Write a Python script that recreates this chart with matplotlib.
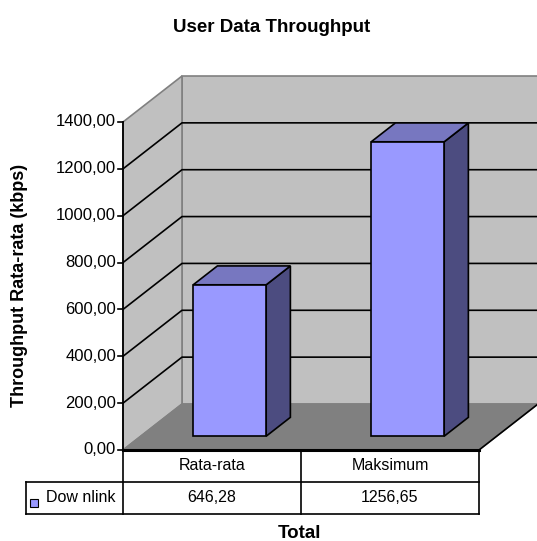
import matplotlib.pyplot as plt
from matplotlib.patches import Polygon, Rectangle

# Data
categories = ["Rata-rata", "Maksimum"]
series_name = "Dow nlink"
values = [646.28, 1256.65]
yticks = [0, 200, 400, 600, 800, 1000, 1200, 1400]

plt.rcParams['font.family'] = ['Liberation Sans', 'DejaVu Sans']

W, H = 537, 541
fig = plt.figure(figsize=(W / 100, H / 100), dpi=100)

# front plot box in pixels
L, R, T, B = 123, 479, 122, 450
ax = fig.add_axes([L / W, 1 - B / H, (R - L) / W, (B - T) / H])
n = len(categories)
top = yticks[-1]
ax.set_xlim(0, n)
ax.set_ylim(0, top)
ax.axis('off')

ppx = (R - L) / n          # pixels per category
ppy = (B - T) / top        # pixels per value unit
dx = 59 / ppx              # depth offset
dy = 46 / ppy

def fmt(v):
    return f"{v:.2f}".replace('.', ',')

# walls and floor
ax.add_patch(Polygon([(dx, dy), (n + dx, dy), (n + dx, top + dy), (dx, top + dy)],
                     fc='#c0c0c0', ec='#808080', lw=1.2, clip_on=False, zorder=1))
ax.add_patch(Polygon([(0, 0), (dx, dy), (dx, top + dy), (0, top)],
                     fc='#c0c0c0', ec='#808080', lw=1.2, clip_on=False, zorder=1))
ax.add_patch(Polygon([(0, 0), (n, 0), (n + dx, dy), (dx, dy)],
                     fc='#808080', ec='#808080', lw=1, clip_on=False, zorder=1.5))
ax.plot([n, n + dx], [0, dy], color='black', lw=1.2, clip_on=False, zorder=2)

# gridlines (top one is the wall edge)
for v in yticks[1:-1]:
    ax.plot([0, dx, n + dx], [v, v + dy, v + dy], color='black', lw=1.2,
            clip_on=False, zorder=2)

# value axis
ax.plot([0, 0], [0, top], color='black', lw=1.3, clip_on=False, zorder=4)
for v in yticks:
    ax.plot([-5 / ppx, 0], [v, v], color='black', lw=1.2, clip_on=False, zorder=4)
    ax.text(-7 / ppx, v, fmt(v), ha='right', va='center', fontsize=12)

# 3D bars
f0, f1 = 0.3, 0.71
a0, b0 = f0 * dx, f0 * dy
a1, b1 = f1 * dx, f1 * dy
for i, v in enumerate(values):
    x0, x1 = i + 0.295, i + 0.705
    ax.add_patch(Polygon([(x1 + a0, b0), (x1 + a1, b1), (x1 + a1, v + b1), (x1 + a0, v + b0)],
                         fc='#4c4c80', ec='black', lw=1.2, clip_on=False, zorder=3))
    ax.add_patch(Polygon([(x0 + a0, v + b0), (x1 + a0, v + b0), (x1 + a1, v + b1), (x0 + a1, v + b1)],
                         fc='#7777c0', ec='black', lw=1.2, clip_on=False, zorder=3))
    ax.add_patch(Polygon([(x0 + a0, b0), (x1 + a0, b0), (x1 + a0, v + b0), (x0 + a0, v + b0)],
                         fc='#9999ff', ec='black', lw=1.2, clip_on=False, zorder=3))

# data table
rh = 32 / ppy
lx = -97 / ppx
ax.plot([0, n], [0, 0], color='black', lw=2.2, clip_on=False, zorder=5)
ax.plot([lx, n], [-rh, -rh], color='black', lw=1.2, clip_on=False, zorder=5)
ax.plot([lx, n], [-2 * rh, -2 * rh], color='black', lw=1.2, clip_on=False, zorder=5)
for i in range(n + 1):
    ax.plot([i, i], [0, -2 * rh], color='black', lw=1.2, clip_on=False, zorder=5)
ax.plot([lx, lx], [-rh, -2 * rh], color='black', lw=1.2, clip_on=False, zorder=5)
for i, (c, v) in enumerate(zip(categories, values)):
    ax.text(i + 0.5, -rh / 2, c, ha='center', va='center', fontsize=11.5)
    ax.text(i + 0.5, -1.5 * rh, fmt(v), ha='center', va='center', fontsize=11.5)
ax.add_patch(Rectangle((-93 / ppx, -1.5 * rh - 9 / ppy), 8 / ppx, 8 / ppy,
                       fc='#9999ff', ec='black', lw=0.8, clip_on=False, zorder=5))
ax.text(-77 / ppx, -1.5 * rh, series_name, ha='left', va='center', fontsize=11.5)

# titles
fig.text(272 / W, 1 - 27 / H, "User Data Throughput", ha='center', va='center',
         fontsize=13.5, fontweight='bold')
fig.text(20 / W, 1 - 285 / H, "Throughput Rata-rata (kbps)", ha='center', va='center',
         rotation=90, fontsize=13, fontweight='bold')
fig.text(300 / W, 1 - 533 / H, "Total", ha='center', va='center',
         fontsize=13.5, fontweight='bold')

fig.savefig("out.png", dpi=100)
